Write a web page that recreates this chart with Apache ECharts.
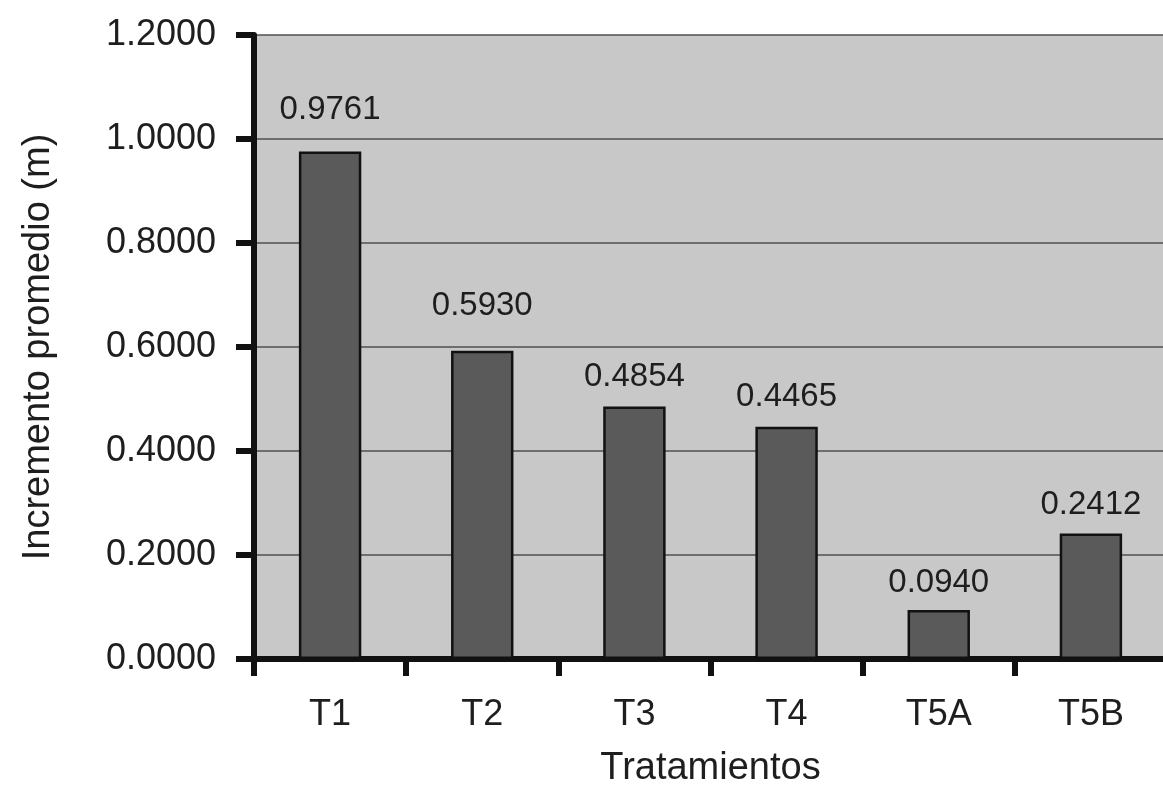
<!DOCTYPE html>
<html>
<head>
<meta charset="utf-8">
<script src="https://cdn.jsdelivr.net/npm/echarts@6/dist/echarts.min.js"></script>
<style>
  html, body { margin: 0; padding: 0; background: #ffffff; }
  #chart { width: 1163px; height: 786px; }
</style>
</head>
<body>
<div id="chart"></div>
<script>
// Treatments and mean increment (m)
const categories = ['T1', 'T2', 'T3', 'T4', 'T5A', 'T5B'];
const increments = [0.9761, 0.5930, 0.4854, 0.4465, 0.0940, 0.2412];
const yTicks = [0, 0.2, 0.4, 0.6, 0.8, 1.0, 1.2];

// Labels for the two tallest bars sit a little higher, clear of the gridlines
const labelGap = [25, 28, 13, 13, 11, 12];

const font = '"Liberation Sans", Arial, sans-serif';
const ink = '#1e1e1e';
const chart = echarts.init(document.getElementById('chart'));

chart.setOption({
  animation: false,
  textStyle: { fontFamily: font },
  grid: { left: 254, right: -4, top: 35, bottom: 127, containLabel: false,
          outerBoundsMode: 'none',
          show: true, backgroundColor: '#c8c8c8', borderWidth: 0 },
  xAxis: {
    type: 'category',
    data: categories,
    name: 'Tratamientos',
    nameLocation: 'middle',
    nameGap: 91,
    nameTextStyle: { fontSize: 38, color: ink, fontFamily: font },
    axisLine: { lineStyle: { color: '#111', width: 6 } },
    axisTick: { show: true, length: 17, lineStyle: { color: '#111', width: 6 } },
    axisLabel: { fontSize: 36, color: ink, margin: 38, fontFamily: font }
  },
  yAxis: {
    type: 'value',
    min: yTicks[0],
    max: yTicks[yTicks.length - 1],
    interval: 0.2,
    name: 'Incremento promedio (m)',
    nameLocation: 'middle',
    nameGap: 196,
    nameRotate: 90,
    nameTextStyle: { fontSize: 38, color: ink, fontFamily: font },
    axisLine: { show: true, lineStyle: { color: '#111', width: 6 } },
    axisTick: { show: true, length: 18, lineStyle: { color: '#111', width: 6 } },
    axisLabel: { fontSize: 36, color: ink, margin: 38, fontFamily: font,
                 formatter: v => v.toFixed(4) },
    splitLine: { show: true, lineStyle: { color: '#505050', width: 1.5 } }
  },
  series: [{
    type: 'bar',
    barWidth: '41%',
    data: increments.map((v, i) => ({
      value: v,
      label: { distance: labelGap[i] }
    })),
    itemStyle: { color: '#5a5a5a', borderColor: '#111', borderWidth: 2.5 },
    label: {
      show: true,
      position: 'top',
      fontSize: 33,
      color: ink,
      fontFamily: font,
      formatter: p => p.value.toFixed(4)
    }
  }]
});
</script>
</body>
</html>
